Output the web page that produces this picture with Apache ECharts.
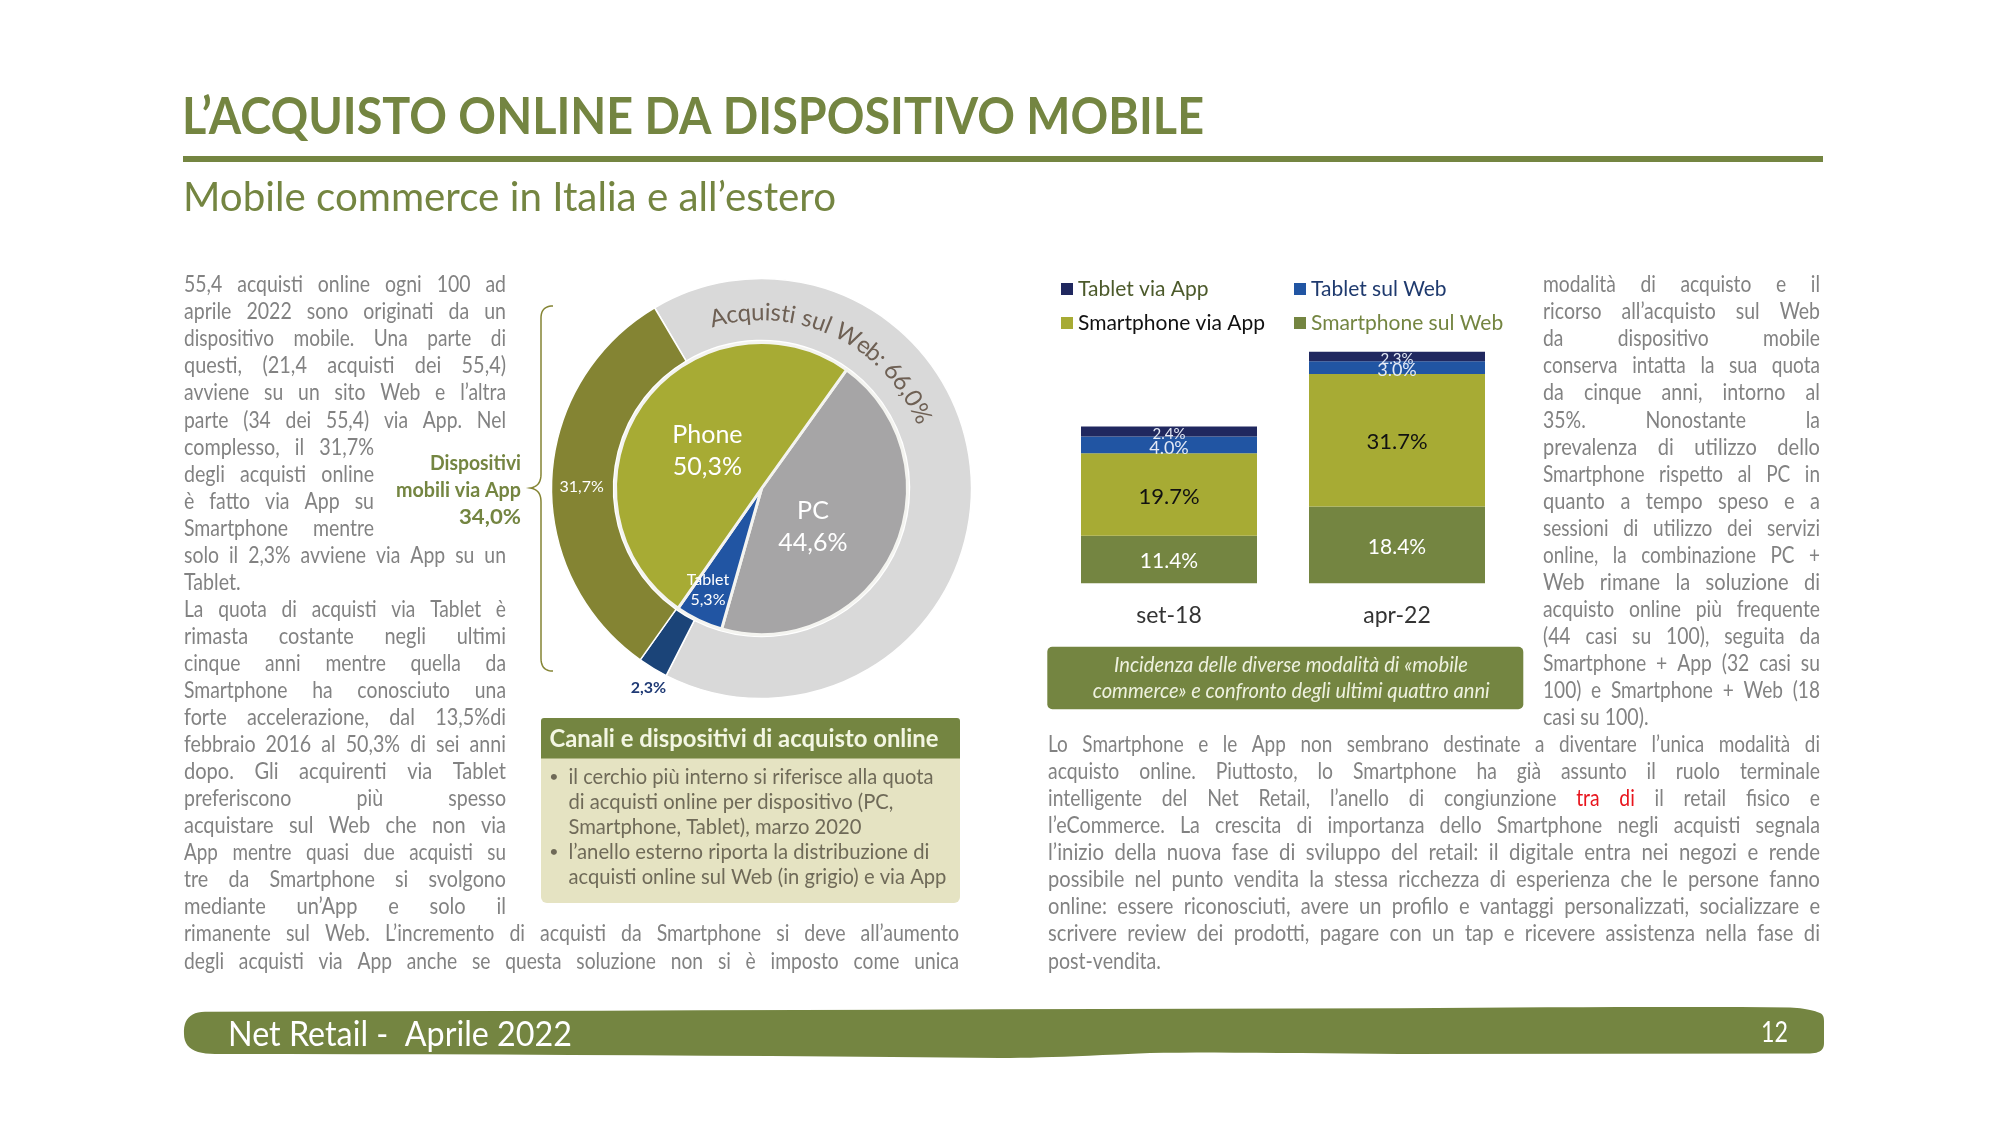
<!DOCTYPE html>
<html>
<head>
    <meta charset="utf-8">
    <script src="https://cdn.jsdelivr.net/npm/echarts@6/dist/echarts.min.js"></script>
    <style>
        html, body { margin: 0; background: #fff; }
        #main { width: 2004px; height: 1127px; }
    </style>
</head>
<body>
<div id="main"></div>
<script>
    // dati del grafico
    const periods = ['set-18', 'apr-22'];
    const smartphoneWeb = [11.4, 18.4];
    const smartphoneApp = [19.7, 31.7];
    const tabletWeb = [4.0, 3.0];
    const tabletApp = [2.4, 2.3];
    const deviceNames = ['PC', 'Tablet', 'Phone'];
    const deviceShare = [44.6, 5.3, 50.3];
    const ringNames = ['Acquisti sul Web', 'App da Tablet', 'App da Smartphone'];
    const ringShare = [66.0, 2.3, 31.7];

    // testi della pagina
    const leftLines = [
        '55,4 acquisti online ogni 100 ad',
        'aprile 2022 sono originati da un',
        'dispositivo mobile. Una parte di',
        'questi, (21,4 acquisti dei 55,4)',
        'avviene su un sito Web e l’altra',
        'parte (34 dei 55,4) via App. Nel',
        'complesso, il 31,7%',
        'degli acquisti online',
        'è fatto via App su',
        'Smartphone mentre',
        'solo il 2,3% avviene via App su un',
        'Tablet.',
        'La quota di acquisti via Tablet è',
        'rimasta costante negli ultimi',
        'cinque anni mentre quella da',
        'Smartphone ha conosciuto una',
        'forte accelerazione, dal 13,5%di',
        'febbraio 2016 al 50,3% di sei anni',
        'dopo. Gli acquirenti via Tablet',
        'preferiscono più spesso',
        'acquistare sul Web che non via',
        'App mentre quasi due acquisti su',
        'tre da Smartphone si svolgono',
        'mediante un’App e solo il',
        'rimanente sul Web. L’incremento di acquisti da Smartphone si deve all’aumento',
        'degli acquisti via App anche se questa soluzione non si è imposto come unica'
    ];
    const rightLines = [
        'modalità di acquisto e il',
        'ricorso all’acquisto sul Web',
        'da dispositivo mobile',
        'conserva intatta la sua quota',
        'da cinque anni, intorno al',
        '35%. Nonostante la',
        'prevalenza di utilizzo dello',
        'Smartphone rispetto al PC in',
        'quanto a tempo speso e a',
        'sessioni di utilizzo dei servizi',
        'online, la combinazione PC +',
        'Web rimane la soluzione di',
        'acquisto online più frequente',
        '(44 casi su 100), seguita da',
        'Smartphone + App (32 casi su',
        '100) e Smartphone + Web (18',
        'casi su 100).'
    ];
    const bottomLines = [
        'Lo Smartphone e le App non sembrano destinate a diventare l’unica modalità di',
        'acquisto online. Piuttosto, lo Smartphone ha già assunto il ruolo terminale',
        'intelligente del Net Retail, l’anello di congiunzione tra di il retail fisico e',
        'l’eCommerce. La crescita di importanza dello Smartphone negli acquisti segnala',
        'l’inizio della nuova fase di sviluppo del retail: il digitale entra nei negozi e rende',
        'possibile nel punto vendita la stessa ricchezza di esperienza che le persone fanno',
        'online: essere riconosciuti, avere un profilo e vantaggi personalizzati, socializzare e',
        'scrivere review dei prodotti, pagare con un tap e ricevere assistenza nella fase di',
        'post-vendita.'
    ];
    const boxLines = [
        ['il cerchio più interno si riferisce alla quota', 365, true],
        ['di acquisti online per dispositivo (PC,', 325, false],
        ['Smartphone, Tablet), marzo 2020', 293, false],
        ['l’anello esterno riporta la distribuzione di', 361, true],
        ['acquisti online sul Web (in grigio) e via App', 378, false]
    ];

    const FONT = 'Lato';
    const GREEN = '#748541';
    const BODY_GREY = '#828282';
    const BODY_SIZE = 22.5;
    const BODY_SCALE = 0.87;
    const LINE_Y = 285;
    const LINE_H = 27.05;

    const ctx = document.createElement('canvas').getContext('2d');
    function measure(str, size, weight, style) {
        ctx.font = (style || 'normal') + ' ' + (weight || 'normal') + ' ' + size + 'px ' + FONT;
        return ctx.measureText(str).width;
    }

    // testo su una riga, larghezza forzata con scaleX
    function fitText(str, x, y, width, o) {
        o = o || {};
        const w = measure(str, o.size, o.weight, o.style);
        const plain = str;
        const style = {
            text: o.rich ? plain.replace(/tra +di/, '{red|$&}') : plain,
            fontFamily: FONT, fontSize: o.size, fontWeight: o.weight || 'normal',
            fontStyle: o.style || 'normal', fill: o.color, align: 'left', verticalAlign: 'middle'
        };
        if (o.rich) style.rich = { red: { fill: '#e8141c', fontFamily: FONT, fontSize: o.size } };
        return { type: 'text', x: x, y: y, scaleX: width / w, silent: true, z: 20, style: style };
    }

    // riga giustificata: prima allarga gli spazi, poi aggiusta con scaleX
    function justified(str, x, y, width, o) {
        const words = str.split(' ');
        const natural = measure(str, o.size);
        const extra = width / BODY_SCALE - natural;
        const spaceW = measure(' ', o.size);
        let n = 1;
        if (extra > 0 && words.length > 1) n += Math.round(extra / (words.length - 1) / spaceW);
        return fitText(words.join(' '.repeat(n)), x, y, width, o);
    }

    function bodyLine(str, x, i, width, last, rich) {
        const o = { size: BODY_SIZE, color: BODY_GREY, rich: rich };
        const y = LINE_Y + LINE_H * i;
        if (last) return fitText(str, x, y, measure(str, BODY_SIZE) * BODY_SCALE, o);
        return justified(str, x, y, width, o);
    }

    // tratti di Bézier cubiche -> punti per polyline/polygon
    function curve(start, segs) {
        const pts = [start];
        let p = start;
        segs.forEach(function (s) {
            if (s.length === 2) { pts.push(s); p = s; return; }
            for (let k = 1; k <= 12; k++) {
                const t = k / 12, u = 1 - t;
                pts.push([
                    u * u * u * p[0] + 3 * u * u * t * s[0] + 3 * u * t * t * s[2] + t * t * t * s[4],
                    u * u * u * p[1] + 3 * u * u * t * s[1] + 3 * u * t * t * s[3] + t * t * t * s[5]
                ]);
            }
            p = [s[4], s[5]];
        });
        return pts;
    }

    const items = [];

    // intestazione
    items.push(fitText('L’ACQUISTO ONLINE DA DISPOSITIVO MOBILE', 182, 118, 1022, { size: 51, weight: 'bold', color: GREEN }));
    items.push({ type: 'rect', silent: true, shape: { x: 183, y: 156, width: 1640, height: 6 }, style: { fill: GREEN } });
    items.push(fitText('Mobile commerce in Italia e all’estero', 183, 198, 653, { size: 40, color: GREEN }));

    // colonne di testo
    leftLines.forEach(function (s, i) {
        let w = 322;
        if (i >= 6 && i <= 9) w = 190;
        if (i >= 24) w = 775;
        items.push(bodyLine(s, 184, i, w, i === 11));
    });
    rightLines.forEach(function (s, i) {
        items.push(bodyLine(s, 1543, i, 277, i === rightLines.length - 1));
    });
    bottomLines.forEach(function (s, i) {
        items.push(bodyLine(s, 1048, 17 + i, 772, i === bottomLines.length - 1, i === 2));
    });

    // etichetta "Dispositivi mobili via App" e graffa
    [['Dispositivi', 91, 463], ['mobili via App', 125, 490], ['34,0%', 62, 517]].forEach(function (t) {
        items.push(fitText(t[0], 521 - t[1], t[2], t[1], { size: 21, weight: 'bold', color: GREEN }));
    });
    items.push({
        type: 'polyline', silent: true, z: 20,
        shape: {
            points: curve([553, 306], [
                [545, 306, 541, 310, 541, 318], [541, 474],
                [541, 483, 537, 487, 530, 488], [537, 489, 541, 493, 541, 502],
                [541, 658], [541, 667, 545, 671, 553, 671]
            ])
        },
        style: { fill: null, stroke: '#848433', lineWidth: 1.5 }
    });

    // scritta curva sull'anello
    (function () {
        const str = 'Acquisti sul Web: 66,0%';
        const cx = 761.5, cy = 488.5, r = 176, size = 24;
        const from = -17 * Math.PI / 180, to = 68 * Math.PI / 180;
        const total = measure(str, size);
        for (let i = 0; i < str.length; i++) {
            if (str[i] === ' ') continue;
            const mid = measure(str.slice(0, i), size) + measure(str[i], size) / 2;
            const a = from + (to - from) * mid / total;
            items.push({
                type: 'text', silent: true, z: 20,
                x: cx + r * Math.sin(a), y: cy - r * Math.cos(a), rotation: -a,
                style: { text: str[i], fontFamily: FONT, fontSize: size, fill: '#6e6054', align: 'center', verticalAlign: 'middle' }
            });
        }
    })();

    // riquadro "Canali e dispositivi"
    items.push({ type: 'rect', silent: true, z: 5, shape: { x: 541, y: 757, width: 419, height: 146, r: [0, 0, 6, 6] }, style: { fill: '#e5e3c2' } });
    items.push({ type: 'rect', silent: true, z: 6, shape: { x: 541, y: 718, width: 419, height: 40.5, r: [3, 3, 0, 0] }, style: { fill: GREEN } });
    items.push(fitText('Canali e dispositivi di acquisto online', 549.5, 739, 389, { size: 24, weight: 'bold', color: '#f3f6e2' }));
    boxLines.forEach(function (b, i) {
        const y = 776.7 + 25 * i;
        items.push(fitText(b[0], 568.4, y, b[1], { size: 22, color: '#6f6a58' }));
        if (b[2]) items.push({
            type: 'text', silent: true, z: 20, x: 554, y: y,
            style: { text: '•', fontFamily: FONT, fontSize: 16, fill: '#6f6a58', align: 'center', verticalAlign: 'middle' }
        });
    });

    // didascalia verde sotto le barre
    items.push({ type: 'rect', silent: true, z: 5, shape: { x: 1047.3, y: 646.7, width: 476, height: 62.6, r: 5 }, style: { fill: GREEN } });
    items.push(fitText('Incidenza delle diverse modalità di «mobile', 1114, 665.5, 354, { size: 21, style: 'italic', color: '#eef1df' }));
    items.push(fitText('commerce» e confronto degli ultimi quattro anni', 1092.7, 691, 397, { size: 21, style: 'italic', color: '#eef1df' }));

    // fascia a piè di pagina
    items.push({
        type: 'polygon', silent: true, z: 5,
        shape: {
            points: curve([205, 1011.7], [
                [600, 1011, 1000, 1009, 1400, 1008.3], [1550, 1007, 1700, 1006.5, 1790, 1007.5],
                [1805, 1008, 1815, 1011, 1820, 1013], [1824, 1015, 1824, 1018, 1824, 1024],
                [1824, 1043], [1824, 1050, 1820, 1053, 1810, 1053.5],
                [1400, 1054], [1300, 1053, 1200, 1052, 1150, 1053],
                [1080, 1056, 1040, 1058, 1000, 1058], [800, 1056, 500, 1054, 215, 1054],
                [195, 1054, 184, 1048, 184, 1034], [183, 1020, 190, 1012, 205, 1011.7]
            ])
        },
        style: { fill: GREEN }
    });
    items.push(fitText('Net Retail -  Aprile 2022', 228, 1035, 344, { size: 35, color: '#ffffff' }));
    items.push(fitText('12', 1761, 1033, 27, { size: 28, color: '#ffffff' }));

    function comma(v) {
        return v.toFixed(1).replace('.', ',') + '%';
    }

    function barLabel(color, size, dy) {
        return {
            show: true, position: 'inside', offset: [0, dy], color: color, fontSize: size, fontFamily: FONT,
            formatter: function (p) { return p.value.toFixed(1) + '%'; }
        };
    }

    const deviceColors = ['#a6a5a6', '#2155a3', '#a7ab34'];
    const deviceLabels = [
        { size: 25, lh: 32, dx: -17, dy: 5 },
        { size: 16, lh: 20, dx: -21, dy: 33 },
        { size: 25, lh: 32, dx: 8, dy: 6 }
    ];
    const ringColors = ['#d9d9d9', '#1b4478', '#848433'];
    const ringLabels = [
        { show: false },
        { show: true, color: '#1f3a75', fontSize: 16, fontWeight: 'bold', dx: -19, dy: 44 },
        { show: true, color: '#ffffff', fontSize: 16, dx: 2, dy: 6 }
    ];

    const myChart = echarts.init(document.getElementById('main'));
    const option = {
        animation: false,
        backgroundColor: '#ffffff',
        textStyle: { fontFamily: FONT },
        graphic: { elements: items },
        legend: [
            {
                left: 1061, top: 278.5, padding: 0, orient: 'vertical', itemWidth: 12, itemHeight: 12, itemGap: 13,
                selectedMode: false, icon: 'rect',
                textStyle: { fontFamily: FONT, fontSize: 21 },
                data: [
                    { name: 'Tablet via App', textStyle: { color: '#4c5a2b' } },
                    { name: 'Smartphone via App', textStyle: { color: '#111111' } }
                ]
            },
            {
                left: 1294, top: 278.5, padding: 0, orient: 'vertical', itemWidth: 12, itemHeight: 12, itemGap: 13,
                selectedMode: false, icon: 'rect',
                textStyle: { fontFamily: FONT, fontSize: 21 },
                data: [
                    { name: 'Tablet sul Web', textStyle: { color: '#1f3a6e' } },
                    { name: 'Smartphone sul Web', textStyle: { color: GREEN } }
                ]
            }
        ],
        grid: { left: 1055, width: 456, top: 332.5, height: 250.8 },
        xAxis: {
            type: 'category', data: periods,
            axisLine: { show: false }, axisTick: { show: false },
            axisLabel: { margin: 21, fontSize: 23, fontFamily: FONT, color: '#333333' }
        },
        yAxis: { type: 'value', min: 0, max: 60, show: false, splitLine: { show: false } },
        series: [
            { name: 'Smartphone sul Web', type: 'bar', stack: 'tot', barWidth: 176, data: smartphoneWeb, itemStyle: { color: GREEN }, label: barLabel('#ffffff', 21, 2) },
            { name: 'Smartphone via App', type: 'bar', stack: 'tot', barWidth: 176, data: smartphoneApp, itemStyle: { color: '#a7ab34' }, label: barLabel('#111111', 22, 2) },
            { name: 'Tablet sul Web', type: 'bar', stack: 'tot', barWidth: 176, data: tabletWeb, itemStyle: { color: '#2155a3' }, label: barLabel('#e4eaf6', 18, 3) },
            { name: 'Tablet via App', type: 'bar', stack: 'tot', barWidth: 176, data: tabletApp, itemStyle: { color: '#20285f' }, label: barLabel('#e4eaf6', 15, 3) },
            {
                name: 'Web e App', type: 'pie', radius: [148, 210], center: [761.5, 488.5], startAngle: 120.6,
                silent: true, z: 3,
                itemStyle: { borderColor: '#ffffff', borderWidth: 1.5 },
                labelLine: { show: false },
                data: ringNames.map(function (n, i) {
                    return {
                        name: n, value: ringShare[i], itemStyle: { color: ringColors[i] },
                        label: {
                            show: ringLabels[i].show, position: 'inside', color: ringLabels[i].color,
                            fontSize: ringLabels[i].fontSize, fontWeight: ringLabels[i].fontWeight, fontFamily: FONT,
                            formatter: function (p) { return comma(p.value); }
                        }
                    };
                }),
                labelLayout: function (p) {
                    return { dx: ringLabels[p.dataIndex].dx, dy: ringLabels[p.dataIndex].dy };
                }
            },
            {
                name: 'Dispositivi', type: 'pie', radius: [0, 146], center: [761.5, 488.5], startAngle: 54.4,
                silent: true, z: 4,
                itemStyle: { borderColor: '#f4f4f0', borderWidth: 3 },
                labelLine: { show: false },
                data: deviceNames.map(function (n, i) {
                    return {
                        name: n, value: deviceShare[i], itemStyle: { color: deviceColors[i] },
                        label: {
                            show: true, position: 'inside', color: '#ffffff', fontFamily: FONT,
                            fontSize: deviceLabels[i].size, lineHeight: deviceLabels[i].lh,
                            formatter: function (p) { return p.name + '\n' + comma(p.value); }
                        }
                    };
                }),
                labelLayout: function (p) {
                    return { dx: deviceLabels[p.dataIndex].dx, dy: deviceLabels[p.dataIndex].dy };
                }
            }
        ]
    };
    myChart.setOption(option);
</script>
</body>
</html>
